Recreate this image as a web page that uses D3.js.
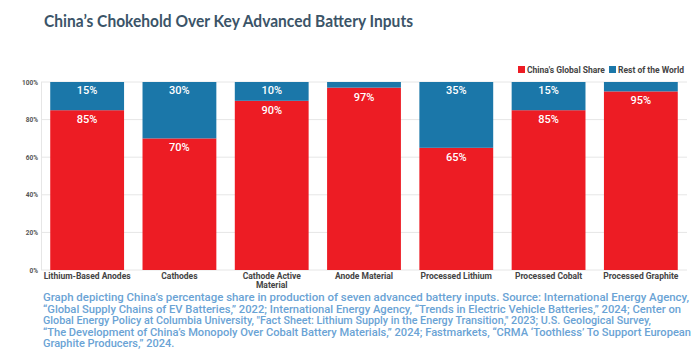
<!DOCTYPE html>
<html><head><meta charset="utf-8">
<script src="https://cdn.jsdelivr.net/npm/d3@7"></script>
<style>body{margin:0;background:#fff}svg{display:block}</style>
</head><body>
<svg id="c" width="696" height="360"></svg>
<script>
const categories = [["Lithium-Based Anodes"],["Cathodes"],["Cathode Active","Material"],["Anode Material"],["Processed Lithium"],["Processed Cobalt"],["Processed Graphite"]];
const chinaShare = [85,70,90,97,65,85,95];
const restShare = [15,30,10,3,35,15,5];
const yTicks = [0,20,40,60,80,100];
const seriesNames = ["China's Global Share","Rest of the World"];
const captionLines = [
 "Graph depicting China\u2019s percentage share in production of seven advanced battery inputs. Source: International Energy Agency,",
 "\u201cGlobal Supply Chains of EV Batteries,\u201d 2022; International Energy Agency, \u201cTrends in Electric Vehicle Batteries,\u201d 2024; Center on",
 "Global Energy Policy at Columbia University, \"Fact Sheet: Lithium Supply in the Energy Transition,\" 2023; U.S. Geological Survey,",
 "\u201cThe Development of China\u2019s Monopoly Over Cobalt Battery Materials,\u201d 2024; Fastmarkets, \u201cCRMA \u2018Toothless\u2019 To Support European",
 "Graphite Producers,\u201d 2024."
];
const RED="#ed1c24", BLUE="#1b77a9";
const svg=d3.select("#c");
svg.append("text").attr("x",44).attr("y",27).attr("font-family","Lato").attr("font-weight",700)
  .attr("font-size",17).attr("fill","#3b5468").attr("textLength",369).attr("lengthAdjust","spacingAndGlyphs")
  .text("China\u2019s Chokehold Over Key Advanced Battery Inputs");

const x=d3.scaleBand().domain(d3.range(categories.length)).range([41,687]).paddingInner(0.2).paddingOuter(0.1);
const y=d3.scaleLinear().domain([0,100]).range([270,82]);

const g=svg.append("g");
g.selectAll("line.grid").data(yTicks).join("line").attr("x1",41).attr("x2",687)
 .attr("y1",d=>y(d)).attr("y2",d=>y(d)).attr("stroke","#e6e6e6").attr("stroke-width",1);
g.append("line").attr("x1",41.5).attr("x2",41.5).attr("y1",82).attr("y2",270).attr("stroke","#e6e6e6");
g.selectAll("text.yt").data(yTicks).join("text").attr("x",38).attr("y",d=>y(d)+2.5)
 .attr("text-anchor","end").attr("font-family","Roboto").attr("font-weight",700).attr("font-size",6.5)
 .attr("fill","#555").text(d=>d+"%");

const idx=d3.range(categories.length);
g.selectAll("rect.cn").data(idx).join("rect").attr("x",i=>x(i)).attr("width",x.bandwidth())
 .attr("y",i=>y(chinaShare[i])).attr("height",i=>y(0)-y(chinaShare[i])).attr("fill",RED);
g.selectAll("rect.rw").data(idx).join("rect").attr("x",i=>x(i)).attr("width",x.bandwidth())
 .attr("y",i=>y(chinaShare[i]+restShare[i])).attr("height",i=>y(chinaShare[i])-y(chinaShare[i]+restShare[i])).attr("fill",BLUE);

const lab={"font-family":"Roboto","font-weight":500,"font-size":11,"fill":"#fff"};
function applyAttrs(s){for(const k in lab) s.attr(k,lab[k]);return s;}
applyAttrs(g.selectAll("text.cl").data(idx).join("text").attr("x",i=>x(i)+x.bandwidth()/2)
 .attr("y",i=>y(chinaShare[i])+13).attr("text-anchor","middle").text(i=>chinaShare[i]+"%"));
applyAttrs(g.selectAll("text.rl").data(idx.filter(i=>restShare[i]>=10)).join("text").attr("x",i=>x(i)+x.bandwidth()/2)
 .attr("y",i=>y(100)+12).attr("text-anchor","middle").text(i=>restShare[i]+"%"));

const cat=g.selectAll("text.cat").data(idx).join("text").attr("x",i=>x(i)+x.bandwidth()/2)
 .attr("y",279).attr("text-anchor","middle").attr("font-family","Roboto").attr("font-weight",700)
 .attr("font-size",8.5).attr("fill","#444");
cat.each(function(i){const t=d3.select(this);categories[i].forEach((l,k)=>t.append("tspan").attr("x",x(i)+x.bandwidth()/2).attr("dy",k?9:0).text(l));});

const leg=[{c:RED,x:518,tx:527,n:seriesNames[0]},{c:BLUE,x:609,tx:618,n:seriesNames[1]}];
leg.forEach(l=>{svg.append("rect").attr("x",l.x).attr("y",66).attr("width",7).attr("height",7).attr("fill",l.c);
 svg.append("text").attr("x",l.tx).attr("y",72.5).attr("font-family","Roboto").attr("font-weight",700)
  .attr("font-size",8.5).attr("fill","#444").text(l.n);});

const ends=[689,681,651,691,null];
const cap=svg.append("g");
captionLines.forEach((l,k)=>{const t=cap.append("text").attr("x",43).attr("y",301+k*11.6)
 .attr("font-family","Roboto").attr("font-weight",500).attr("font-size",11).attr("fill","#6aa3d5").text(l);
 if(ends[k]) t.attr("textLength",ends[k]-43).attr("lengthAdjust","spacingAndGlyphs");});
</script></body></html>
